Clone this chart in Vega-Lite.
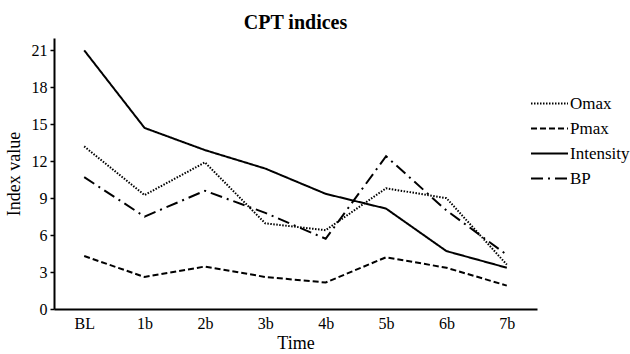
{
  "$schema": "https://vega.github.io/schema/vega-lite/v6.json",
  "width": 483,
  "height": 271,
  "autosize": "none",
  "padding": {"left": 54, "top": 38, "right": 93, "bottom": 45},
  "background": "white",
  "title": {"text": "CPT indices", "font": "Liberation Serif", "fontSize": 20, "fontWeight": "bold", "color": "black", "offset": 5},
  "config": {
    "view": {"stroke": null},
    "font": "Liberation Serif",
    "axis": {"labelFont": "Liberation Serif", "titleFont": "Liberation Serif"},
    "legend": {"labelFont": "Liberation Serif"},
    "title": {"font": "Liberation Serif"}
  },
  "data": {
    "values": [
      {"time": "BL", "index": "Omax", "value": 13.2},
      {"time": "1b", "index": "Omax", "value": 9.25},
      {"time": "2b", "index": "Omax", "value": 11.9},
      {"time": "3b", "index": "Omax", "value": 6.95},
      {"time": "4b", "index": "Omax", "value": 6.4},
      {"time": "5b", "index": "Omax", "value": 9.8},
      {"time": "6b", "index": "Omax", "value": 9.0},
      {"time": "7b", "index": "Omax", "value": 3.6},
      {"time": "BL", "index": "Pmax", "value": 4.3},
      {"time": "1b", "index": "Pmax", "value": 2.6},
      {"time": "2b", "index": "Pmax", "value": 3.45},
      {"time": "3b", "index": "Pmax", "value": 2.6},
      {"time": "4b", "index": "Pmax", "value": 2.15},
      {"time": "5b", "index": "Pmax", "value": 4.2},
      {"time": "6b", "index": "Pmax", "value": 3.35},
      {"time": "7b", "index": "Pmax", "value": 1.9},
      {"time": "BL", "index": "Intensity", "value": 21.0},
      {"time": "1b", "index": "Intensity", "value": 14.7},
      {"time": "2b", "index": "Intensity", "value": 12.9},
      {"time": "3b", "index": "Intensity", "value": 11.4},
      {"time": "4b", "index": "Intensity", "value": 9.35},
      {"time": "5b", "index": "Intensity", "value": 8.15},
      {"time": "6b", "index": "Intensity", "value": 4.7},
      {"time": "7b", "index": "Intensity", "value": 3.35},
      {"time": "BL", "index": "BP", "value": 10.7},
      {"time": "1b", "index": "BP", "value": 7.5},
      {"time": "2b", "index": "BP", "value": 9.6},
      {"time": "3b", "index": "BP", "value": 7.8},
      {"time": "4b", "index": "BP", "value": 5.7},
      {"time": "5b", "index": "BP", "value": 12.4},
      {"time": "6b", "index": "BP", "value": 8.0},
      {"time": "7b", "index": "BP", "value": 4.4}
    ]
  },
  "mark": {"type": "line", "strokeWidth": 2, "color": "black"},
  "encoding": {
    "x": {
      "field": "time",
      "type": "ordinal",
      "sort": ["BL", "1b", "2b", "3b", "4b", "5b", "6b", "7b"],
      "scale": {"type": "point", "padding": 0.5},
      "axis": {
        "title": "Time",
        "titleFont": "Liberation Serif",
        "titleFontSize": 18,
        "titleFontWeight": "normal",
        "titleColor": "black",
        "titlePadding": 3,
        "labelAngle": 0,
        "labelFont": "Liberation Serif",
        "labelFontSize": 16,
        "labelColor": "black",
        "labelPadding": 6,
        "ticks": false,
        "domainColor": "black",
        "domainWidth": 2,
        "grid": false
      }
    },
    "y": {
      "field": "value",
      "type": "quantitative",
      "scale": {"domain": [0, 22], "nice": false},
      "axis": {
        "title": "Index value",
        "titleFont": "Liberation Serif",
        "titleFontSize": 18,
        "titleFontWeight": "normal",
        "titleColor": "black",
        "titlePadding": 8,
        "values": [0, 3, 6, 9, 12, 15, 18, 21],
        "labelFont": "Liberation Serif",
        "labelFontSize": 16,
        "labelColor": "black",
        "labelPadding": 3,
        "tickSize": 4,
        "tickWidth": 1.5,
        "tickColor": "black",
        "domainColor": "black",
        "domainWidth": 2,
        "grid": false
      }
    },
    "strokeDash": {
      "field": "index",
      "type": "nominal",
      "scale": {
        "domain": ["Omax", "Pmax", "Intensity", "BP"],
        "range": [[1.5, 1.5], [6, 3], [1, 0], [12, 5, 2, 5]]
      },
      "legend": {
        "title": null,
        "orient": "none",
        "legendX": 476,
        "legendY": 53,
        "symbolType": "stroke",
        "symbolSize": 1369,
        "symbolStrokeWidth": 2,
        "symbolStrokeColor": "black",
        "labelFont": "Liberation Serif",
        "labelFontSize": 17,
        "labelColor": "black",
        "labelOffset": 1,
        "clipHeight": 25,
        "rowPadding": 0
      }
    }
  }
}
